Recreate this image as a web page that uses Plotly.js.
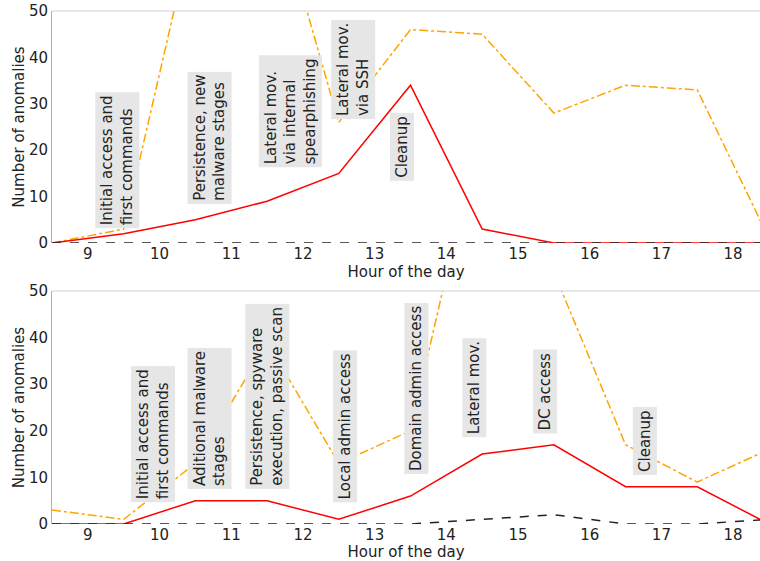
<!DOCTYPE html>
<html>
<head>
<meta charset="utf-8">
<script src="https://cdn.plot.ly/plotly-3.0.1.min.js"></script>
<style>html,body{margin:0;padding:0;background:#fff;}#chart{width:760px;height:561px;}</style>
</head>
<body>
<div id="chart"></div>
<script>
// Data
const hours = [8.5, 9.5, 10.5, 11.5, 12.5, 13.5, 14.5, 15.5, 16.5, 17.5, 18.5];
const topRed    = [0, 2, 5, 9, 15, 34, 3, 0, 0, 0, 0];
const topOrange = [0, 3, 70, 80, 26, 46, 45, 28, 34, 33, 1];
const topBlack  = [0, 0, 0, 0, 0, 0, 0, 0, 0, 0, 0];
const botRed    = [0, 0, 5, 5, 1, 6, 15, 17, 8, 8, 0];
const botOrange = [3, 1, 13, 39, 13, 20, 87, 54, 17, 9, 16];
const botBlack  = [0, 0, 0, 0, 0, 0, 1, 2, 0, 0, 1];
const xTicks = [9, 10, 11, 12, 13, 14, 15, 16, 17, 18];
const yTicks = [0, 10, 20, 30, 40, 50];

const topLabels = ["Initial access and<br>first commands", "Persistence, new<br>malware stages",
  "Lateral mov.<br>via internal<br>spearphishing", "Lateral mov.<br>via SSH", "Cleanup"];
const topLabelX = [9.41, 10.70, 11.82, 12.70, 13.38];
const topLabelY = [17.9, 22.6, 28.4, 37.3, 20.7];
const botLabels = ["Initial access and<br>first commands", "Aditional malware<br>stages",
  "Persistence, spyware<br>execution, passive scan", "Local admin access", "Domain admin access",
  "Lateral mov.", "DC access", "Cleanup"];
const botLabelX = [9.91, 10.70, 11.50, 12.59, 13.58, 14.39, 15.38, 16.77];
const botLabelY = [19.3, 22.7, 27.3, 21.0, 29.0, 29.2, 28.5, 17.8];

const FONT = "DejaVu Sans, sans-serif";
function series(y, xa, ya, color, dash, width) {
  return {x: hours, y: y, xaxis: xa, yaxis: ya, type: 'scatter', mode: 'lines',
    line: {color: color, dash: dash, width: width}, hoverinfo: 'skip', showlegend: false};
}
const data = [
  series(topOrange, 'x', 'y', '#FFA500', 'dashdot', 1.5),
  series(topRed, 'x', 'y', '#FF0000', 'solid', 1.5),
  series(topBlack, 'x', 'y', '#222222', 'dash', 1.5),
  series(botOrange, 'x2', 'y2', '#FFA500', 'dashdot', 1.5),
  series(botRed, 'x2', 'y2', '#FF0000', 'solid', 1.5),
  series(botBlack, 'x2', 'y2', '#222222', 'dash', 1.5)
];

function xax(anchor) {
  return {anchor: anchor, range: [8.5, 18.375], tickvals: xTicks, ticktext: xTicks.map(String),
    showgrid: false, zeroline: false, showline: false, ticks: '', automargin: false,
    tickfont: {family: FONT, size: 15, color: '#222'},
    title: {text: 'Hour of the day', font: {family: FONT, size: 15, color: '#222'}, standoff: 2}};
}
function yax(anchor, domain) {
  return {anchor: anchor, domain: domain, range: [0, 50], tickvals: yTicks, ticktext: yTicks.map(String),
    showgrid: false, zeroline: false, showline: true, linecolor: '#b0b0b0', linewidth: 1,
    ticks: '', automargin: false, tickfont: {family: FONT, size: 15, color: '#222'},
    title: {text: 'Number of anomalies', font: {family: FONT, size: 15, color: '#222'}, standoff: 0}};
}

const annotations = [];
function addLabels(labels, xs, ys, xref, yref) {
  labels.forEach((t, i) => {
    annotations.push({text: t, x: xs[i], y: ys[i], xref: xref, yref: yref, showarrow: false,
      textangle: -90, xanchor: 'center', yanchor: 'middle', align: 'left',
      bgcolor: '#e6e6e6', borderpad: 3, borderwidth: 0,
      font: {family: FONT, size: 15, color: '#222'}});
  });
}
addLabels(topLabels, topLabelX, topLabelY, 'x', 'y');
addLabels(botLabels, botLabelX, botLabelY, 'x2', 'y2');

const shapes = [
  {type: 'line', xref: 'x domain', yref: 'y domain', x0: 0, x1: 1, y0: 1, y1: 1, line: {color: '#d0d0d0', width: 1}},
  {type: 'line', xref: 'x2 domain', yref: 'y2 domain', x0: 0, x1: 1, y0: 1, y1: 1, line: {color: '#d0d0d0', width: 1}}
];

const layout = {
  width: 760, height: 561,
  margin: {l: 52, r: 0, t: 11, b: 37},
  paper_bgcolor: '#fff', plot_bgcolor: '#fff',
  xaxis: xax('y'), yaxis: yax('x', [0.5478, 1]),
  xaxis2: xax('y2'), yaxis2: yax('x2', [0, 0.4542]),
  annotations: annotations, shapes: shapes, showlegend: false
};
Plotly.newPlot('chart', data, layout, {staticPlot: true, displayModeBar: false});
</script>
</body>
</html>
